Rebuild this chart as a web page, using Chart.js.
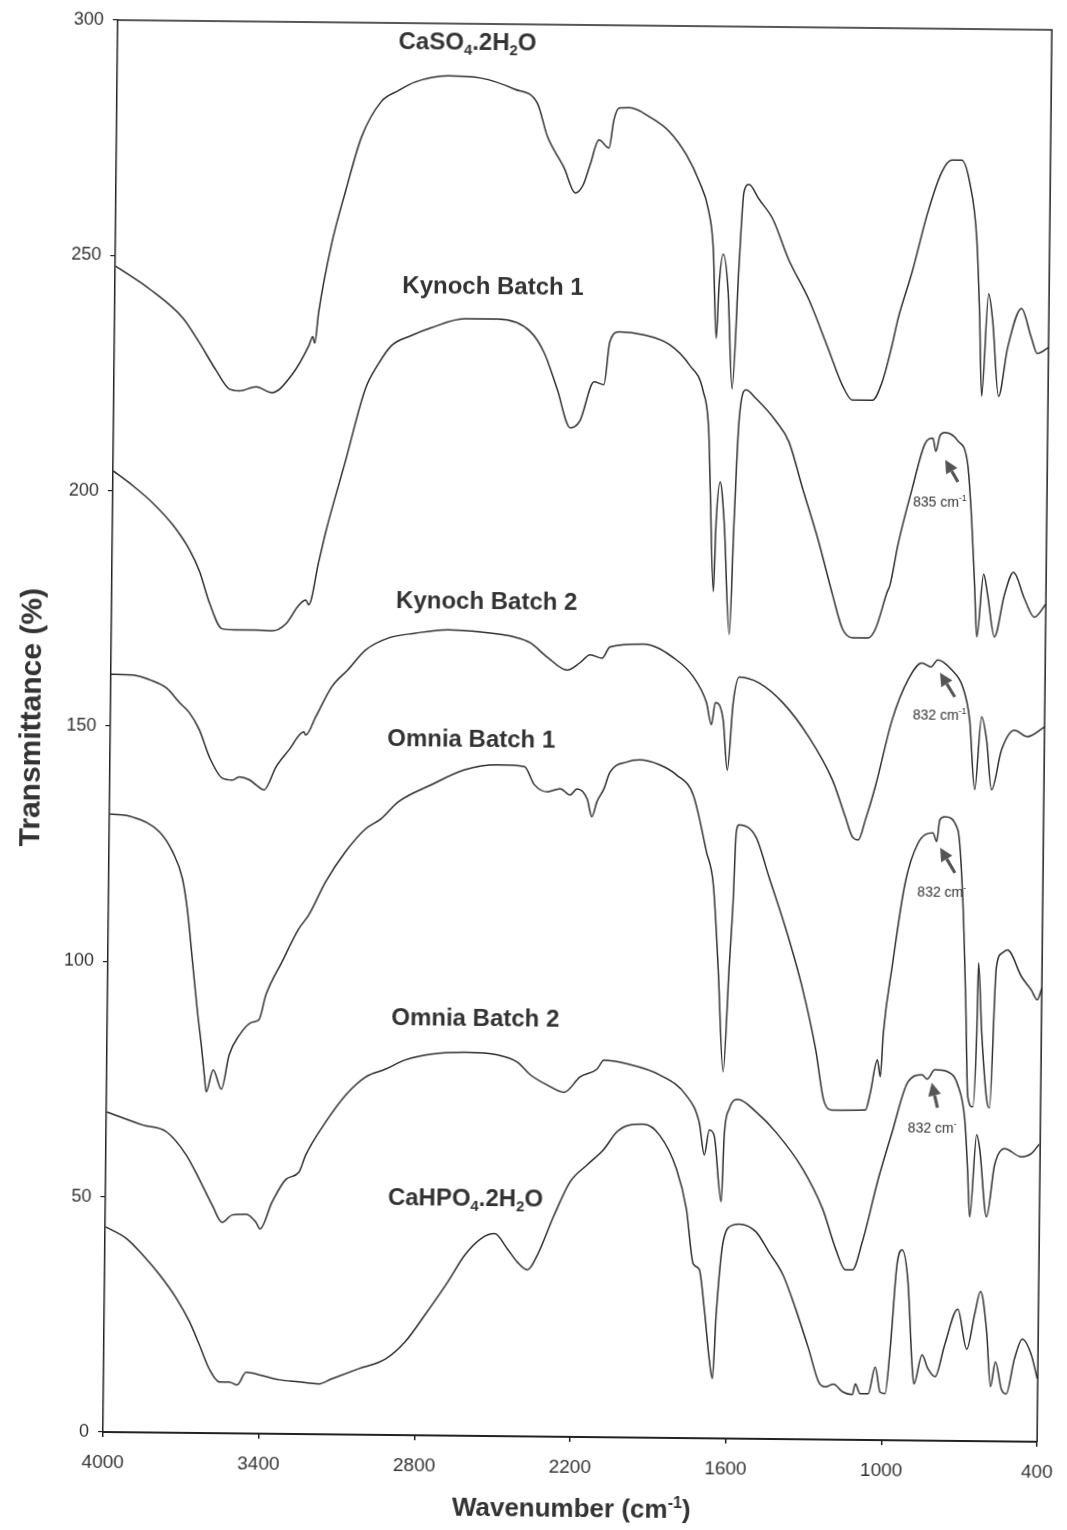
<!DOCTYPE html>
<html><head><meta charset="utf-8">
<script src="https://cdn.jsdelivr.net/npm/chart.js@4.4.0/dist/chart.umd.min.js"></script>
<style>
html,body{margin:0;padding:0;background:#fff;width:1067px;height:1530px;overflow:hidden}
#wrap{position:absolute;left:0;top:0;width:1067px;height:1530px;transform-origin:103px 1432px;transform:rotate(0.6deg)}
canvas{display:block}
</style></head><body>
<div id="wrap"><canvas id="c" width="1067" height="1530"></canvas></div>
<script>
const xTicks=[4000,3400,2800,2200,1600,1000,400];
const yTicks=[0,50,100,150,200,250,300];

const caso4Wn=[3998,3866,3738,3672,3606,3556,3517,3452,3391,3315,3251,3236,3228,3214,3167,3115,3056,2981,2917,2852,2725,2599,2468,2380,2340,2274,2230,2200,2174,2141,2102,2084,2065,2023,1946,1869,1803,1752,1717,1696,1681,1672,1657,1637,1618,1596,1580,1561,1522,1467,1405,1326,1248,1193,1154,1077,1040,1003,981,929,870,818,780,742,711,681,667,656,633,616,591,558,506,467,443,400];
const caso4T=[247.7,242.9,236.9,231.6,225.7,221.9,221.5,222.4,221.2,225.0,231.2,233.2,231.8,238.4,252.9,264.2,275.7,283.3,285.6,287.5,288.9,288.5,286.2,283.3,276.3,269.6,264.3,266.0,270.3,275.6,273.9,279.9,282.4,282.5,280.6,277.5,272.6,266.9,261.2,252.8,233.7,245.2,251.6,243.7,223.0,249.3,264.8,266.5,263.4,259.1,250.6,242.2,231.6,224.0,220.9,220.9,224.8,232.7,238.3,248.2,261.1,269.6,272.1,272.1,267.5,255.5,239.4,222.0,243.8,237.9,222.0,232.3,240.7,234.6,231.2,232.5];

const kynoch1Wn=[3999,3923,3846,3768,3702,3663,3624,3573,3508,3442,3381,3328,3279,3252,3241,3204,3178,3105,3031,2982,2933,2857,2781,2651,2524,2397,2343,2292,2240,2203,2150,2112,2091,2053,1961,1861,1783,1729,1706,1698,1682,1674,1660,1643,1619,1605,1590,1564,1525,1448,1397,1342,1278,1222,1183,1144,1083,1056,1012,1001,972,920,873,842,830,815,796,746,707,689,675,665,641,625,597,560,526,483,444,400];
const kynoch1T=[204.2,201.1,197.5,192.9,187.6,183.1,176.5,170.9,170.7,170.7,170.6,172.1,176.1,177.2,176.2,185.3,191.7,206.8,222.2,227.5,231.4,233.6,235.3,237.3,237.3,234.7,230.2,222.6,214.4,215.9,224.2,223.6,232.7,234.9,234.3,232.3,228.0,222.4,213.9,201.8,179.9,194.7,203.2,194.7,170.9,194.7,216.0,222.8,221.0,216.3,211.9,202.0,190.7,179.4,172.3,170.4,170.4,172.3,180.2,181.8,190.4,202.2,211.7,213.0,210.2,213.5,214.2,212.5,207.6,195.4,181.3,170.9,184.2,179.9,170.9,179.9,184.7,179.1,175.2,178.0];

const kynoch2Wn=[4000,3915,3850,3785,3734,3696,3657,3617,3567,3528,3501,3463,3436,3405,3360,3311,3254,3247,3209,3149,3085,3020,2933,2829,2703,2577,2446,2385,2319,2242,2193,2154,2108,2078,1948,1821,1755,1704,1684,1670,1639,1621,1601,1579,1502,1409,1309,1215,1164,1136,1113,1087,1050,988,928,875,840,814,760,717,689,667,643,623,602,565,516,466,400];
const kynoch2T=[161.0,160.9,159.9,158.2,155.1,153.0,149.4,143.6,139.2,138.8,139.5,138.9,137.8,136.8,141.7,145.3,149.2,148.5,152.4,158.8,162.6,166.7,169.3,170.4,171.2,170.8,169.8,168.6,165.6,162.9,164.5,166.2,165.5,167.9,168.6,165.3,161.7,156.3,151.6,156.3,152.7,142.0,156.3,161.8,160.6,156.4,149.3,140.1,132.3,128.1,127.5,131.7,138.8,153.0,161.6,165.2,164.4,165.9,163.8,160.2,153.2,138.4,153.9,149.0,138.4,146.9,151.1,149.8,151.9];

const omnia1Wn=[3998,3910,3806,3755,3716,3695,3674,3653,3637,3624,3616,3590,3558,3529,3491,3442,3416,3390,3330,3266,3228,3164,3089,3013,2953,2888,2762,2633,2506,2403,2364,2314,2264,2226,2199,2160,2141,2122,2096,2073,2009,1959,1882,1817,1751,1698,1670,1648,1625,1606,1593,1584,1573,1508,1456,1389,1322,1269,1236,1202,1075,1057,1031,1019,1009,978,931,883,826,811,800,781,730,708,693,681,662,649,645,630,608,597,576,553,534,479,441,417,400];
const omnia1T=[131.3,130.7,127.6,123.4,117.7,110.7,100.1,89.5,82.5,76.1,72.5,77.2,73.1,80.4,84.6,87.4,87.9,93.2,100.2,107.3,110.3,117.4,123.8,128.7,130.9,134.5,138.2,141.5,142.6,142.3,138.5,137.0,137.7,136.4,137.7,135.6,131.8,135.0,137.7,141.3,143.5,144.0,143.0,140.9,136.6,124.6,117.6,99.8,77.9,99.8,114.4,128.7,130.4,127.9,119.4,108.4,95.7,82.8,72.1,70.0,70.1,73.7,80.8,77.2,86.5,100.5,118.4,126.9,129.1,127.3,131.9,132.6,129.8,114.9,93.7,73.1,71.0,86.7,101.6,86.8,72.5,70.8,100.8,103.8,104.4,98.8,96.0,93.9,96.4];

const omnia2Wn=[3998,3859,3767,3690,3639,3588,3549,3511,3457,3419,3403,3358,3305,3256,3230,3155,3079,3003,2927,2851,2751,2621,2495,2418,2367,2302,2237,2176,2111,2085,1997,1869,1766,1715,1694,1676,1657,1627,1618,1600,1566,1497,1419,1315,1236,1184,1146,1119,1082,1023,971,912,858,839,809,759,720,692,679,669,645,633,604,575,537,472,434,404];
const omnia2T=[68.0,65.3,63.9,59.0,53.9,48.4,44.8,46.4,46.6,44.9,43.5,49.2,54.1,55.6,59.3,66.3,72.1,76.0,77.7,79.7,81.0,81.5,81.0,79.5,76.8,74.7,73.2,76.5,78.2,80.1,79.4,77.1,72.8,67.1,60.2,65.5,64.4,50.3,64.4,70.0,72.1,69.5,65.2,57.5,49.0,40.5,36.1,36.1,42.0,55.4,65.5,76.2,77.7,76.8,78.8,78.4,75.6,68.4,57.8,47.6,65.1,62.1,47.7,58.7,62.2,60.5,61.2,63.2];

const cahpo4Wn=[3998,3916,3854,3788,3722,3671,3632,3593,3554,3516,3485,3451,3401,3324,3248,3171,3121,3018,2915,2840,2764,2677,2613,2552,2499,2449,2410,2371,2333,2270,2210,2146,2081,2032,1982,1929,1867,1801,1761,1732,1709,1688,1667,1654,1642,1618,1580,1557,1492,1441,1386,1336,1284,1244,1218,1187,1152,1114,1103,1084,1053,1027,1007,988,970,947,928,904,885,877,847,824,796,760,711,675,646,624,599,582,564,540,521,491,461,426,402];
const cahpo4T=[43.6,41.1,37.7,33.5,28.5,23.6,18.7,13.6,10.9,10.9,10.3,13.0,12.5,11.5,11.1,10.7,11.8,14.0,16.1,19.8,25.6,32.7,38.4,41.9,43.0,39.8,37.0,35.4,38.6,47.1,54.2,57.8,61.2,64.9,66.4,66.6,64.3,57.2,48.7,37.0,35.9,27.5,16.9,12.7,26.3,41.8,45.4,45.6,44.0,39.7,34.9,27.7,19.2,12.2,11.2,11.8,10.2,9.6,11.9,9.8,9.8,15.5,10.2,9.9,19.4,37.3,40.5,33.7,16.0,12.0,18.2,15.3,13.6,20.4,28.0,19.5,26.9,31.8,23.4,11.6,16.9,11.1,10.1,17.5,21.8,18.5,13.4];

const seriesNames=['CaSO4.2H2O','Kynoch Batch 1','Kynoch Batch 2','Omnia Batch 1','Omnia Batch 2','CaHPO4.2H2O'];
const seriesWn=[caso4Wn,kynoch1Wn,kynoch2Wn,omnia1Wn,omnia2Wn,cahpo4Wn];
const seriesT=[caso4T,kynoch1T,kynoch2T,omnia1T,omnia2T,cahpo4T];

const FONT='"Liberation Sans", Arial, Helvetica, sans-serif';
const INK='#333333';

const datasets=seriesNames.map((name,k)=>{
  const n=Math.min(seriesWn[k].length,seriesT[k].length);
  const pts=[];
  for(let i=0;i<n;i++) pts.push({x:seriesWn[k][i],y:seriesT[k][i]});
  return {label:name,data:pts,borderColor:'#2f2f2f',borderWidth:1.5,pointRadius:0,fill:false,cubicInterpolationMode:'monotone'};
});

function rich(ctx,x,y,parts,size,weight,align){
  const meas=[];let total=0;
  for(const [t,mode] of parts){
    const fs=mode?size*0.62:size;
    ctx.font=weight+' '+fs+'px '+FONT;
    const w=ctx.measureText(t).width;
    meas.push([t,mode,fs,w]);total+=w;
  }
  let cx=align==='left'?x:x-total/2;
  ctx.textBaseline='alphabetic';ctx.textAlign='left';
  for(const [t,mode,fs,w] of meas){
    ctx.font=weight+' '+fs+'px '+FONT;
    const dy=mode===1?size*0.22:(mode===2?-size*0.40:0);
    ctx.fillText(t,cx,y+dy);cx+=w;
  }
}
function arrow(ctx,hx,hy,tx,ty){
  const ang=Math.atan2(hy-ty,hx-tx);
  const L=13,Wd=6.5;
  const bx=hx-Math.cos(ang)*L,by=hy-Math.sin(ang)*L;
  ctx.strokeStyle='#555';ctx.lineWidth=3.2;ctx.lineCap='butt';
  ctx.beginPath();ctx.moveTo(tx,ty);ctx.lineTo(bx,by);ctx.stroke();
  ctx.fillStyle='#555';ctx.beginPath();
  ctx.moveTo(hx,hy);
  ctx.lineTo(bx+Math.sin(ang)*Wd,by-Math.cos(ang)*Wd);
  ctx.lineTo(bx-Math.sin(ang)*Wd,by+Math.cos(ang)*Wd);
  ctx.closePath();ctx.fill();
}

const decor={
  id:'decor',
  afterDraw(chart){
    const ctx=chart.ctx;const a=chart.chartArea;
    ctx.save();
    ctx.strokeStyle='#222';ctx.lineWidth=1.5;
    ctx.beginPath();ctx.moveTo(a.left,a.top);ctx.lineTo(a.right,a.top);ctx.lineTo(a.right,a.bottom);ctx.stroke();
    ctx.fillStyle=INK;
    rich(ctx,453,46,[['CaSO',0],['4',1],['.2H',0],['2',1],['O',0]],24,'bold');
    rich(ctx,481,290,[['Kynoch Batch 1',0]],24,'bold');
    rich(ctx,478,605,[['Kynoch Batch 2',0]],24,'bold');
    rich(ctx,464,743,[['Omnia Batch 1',0]],24,'bold');
    rich(ctx,471,1022,[['Omnia Batch 2',0]],24,'bold');
    rich(ctx,463,1202,[['CaHPO',0],['4',1],['.2H',0],['2',1],['O',0]],24,'bold');
    ctx.fillStyle=INK;
    rich(ctx,930,498,[['835 cm',0],['-1',2]],14,'normal');
    rich(ctx,932,711,[['832 cm',0],['-1',2]],14,'normal');
    rich(ctx,936,888,[['832 cm',0],['-',2]],14,'normal');
    rich(ctx,929,1124,[['832 cm',0],['-',2]],14,'normal');
    arrow(ctx,935,451,948,473);
    arrow(ctx,932,664,947,688);
    arrow(ctx,934,839,949,864);
    arrow(ctx,928,1074,934,1099);
    ctx.fillStyle=INK;
    rich(ctx,572,1512,[['Wavenumber (cm',0],['-1',2],[')',0]],26,'bold');
    ctx.save();ctx.translate(22,718);ctx.rotate(-Math.PI/2);
    rich(ctx,0,11,[['Transmittance (%)',0]],30,'bold');
    ctx.restore();
    ctx.restore();
  }
};

new Chart(document.getElementById('c').getContext('2d'),{
  type:'line',
  data:{datasets},
  options:{
    responsive:false,animation:false,devicePixelRatio:1,
    layout:{padding:{left:0,right:24,top:20,bottom:0}},
    plugins:{legend:{display:false},tooltip:{enabled:false}},
    elements:{line:{borderJoinStyle:'round'}},
    scales:{
      x:{type:'linear',reverse:true,min:400,max:4000,
        afterBuildTicks:s=>{s.ticks=xTicks.map(v=>({value:v}));},
        afterFit:s=>{s.height=98;},
        grid:{display:true,drawOnChartArea:false,drawTicks:true,tickLength:5,color:'#222',lineWidth:1.5},
        border:{display:true,color:'#222',width:2},
        ticks:{color:INK,font:{family:FONT,size:19},padding:14,maxRotation:0,autoSkip:false,callback:v=>String(v)}
      },
      y:{type:'linear',min:0,max:300,
        afterBuildTicks:s=>{s.ticks=yTicks.map(v=>({value:v}));},
        afterFit:s=>{s.width=103;},
        grid:{display:true,drawOnChartArea:false,drawTicks:true,tickLength:5,color:'#222',lineWidth:1.2},
        border:{display:true,color:'#222',width:1.5},
        ticks:{color:INK,font:{family:FONT,size:18},padding:9,autoSkip:false,callback:v=>String(v)}
      }
    }
  },
  plugins:[decor]
});
</script>
</body></html>
